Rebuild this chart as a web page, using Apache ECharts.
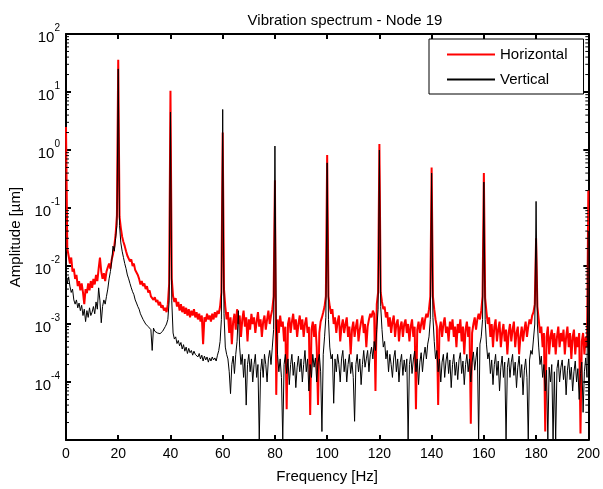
<!DOCTYPE html>
<html>
<head>
<meta charset="utf-8">
<script src="https://cdn.jsdelivr.net/npm/echarts@6/dist/echarts.min.js"></script>
<style>
  html, body { margin: 0; padding: 0; background: #fff; }
  #chart { width: 603px; height: 489px; }
</style>
</head>
<body>
<div id="chart"></div>
<script>
// frequency grid: 0 .. 200 Hz, 0.5 Hz step
const freqStep = 0.5;
const xTicks = [0, 20, 40, 60, 80, 100, 120, 140, 160, 180, 200];
const yDecades = [-5, -4, -3, -2, -1, 0, 1, 2];
const legendNames = ["Horizontal", "Vertical"];

// Horizontal amplitude [um], one row per 10 Hz
const horizontal = [
  2.5, 2.0e-2, 1.5e-2, 1.1e-2, 1.4e-2, 8e-3, 9e-3, 6e-3, 7e-3, 4.5e-3, 5.5e-3, 3.8e-3, 5e-3, 3.5e-3, 2.2e-3, 4e-3, 3.4e-3, 5e-3, 3.8e-3, 5.5e-3,
  4.2e-3, 6e-3, 4.8e-3, 7e-3, 5.5e-3, 9e-3, 1.4e-2, 8e-3, 6e-3, 7.5e-3, 5.5e-3, 8e-3, 9.5e-3, 1.1e-2, 9e-3, 1.3e-2, 1.6e-2, 2.2e-2, 3.5e-2, 7.5e-2,
  36, 7e-2, 4.5e-2, 3.2e-2, 2.6e-2, 2.2e-2, 1.8e-2, 1.5e-2, 1.6e-2, 1.2e-2, 1.3e-2, 1e-2, 1.1e-2, 8.5e-3, 9e-3, 7e-3, 6e-3, 4.8e-3, 5.5e-3, 4.5e-3,
  5e-3, 4e-3, 4.5e-3, 3.5e-3, 3.8e-3, 3e-3, 3.2e-3, 2.6e-3, 2.9e-3, 2.4e-3, 2.6e-3, 2.1e-3, 2.4e-3, 1.9e-3, 2.1e-3, 1.7e-3, 1.9e-3, 1.6e-3, 2.2e-3, 5e-3,
  10.5, 6e-3, 3e-3, 2.4e-3, 2.8e-3, 2e-3, 2.4e-3, 1.7e-3, 2.2e-3, 1.6e-3, 2e-3, 1.5e-3, 1.9e-3, 1.4e-3, 1.8e-3, 1.3e-3, 1.7e-3, 1.4e-3, 1.8e-3, 1.3e-3,
  1.6e-3, 1.2e-3, 1.5e-3, 1.1e-3, 1.4e-3, 4.5e-4, 1.3e-3, 1.1e-3, 1.5e-3, 1.2e-3, 1.4e-3, 1.1e-3, 1.5e-3, 1.2e-3, 1.6e-3, 1.3e-3, 1.7e-3, 1.5e-3, 2e-3, 3.5e-3,
  2.0, 4e-3, 2e-3, 1.2e-3, 1.6e-3, 7e-4, 1.3e-3, 4.5e-4, 1.1e-3, 1.5e-3, 8e-4, 1.8e-3, 1e-3, 1.4e-3, 6e-4, 1.2e-3, 1.7e-3, 9e-4, 1.3e-3, 5e-4,
  1.2e-3, 8e-4, 1.5e-3, 1e-3, 1.3e-3, 7e-4, 1.1e-3, 1.6e-3, 9e-4, 1.2e-3, 6e-4, 1.1e-3, 1.4e-3, 8e-4, 1.2e-3, 1.7e-3, 1e-3, 1.4e-3, 1.8e-3, 3e-3,
  0.3, 6e-5, 1.2e-3, 7e-4, 1.4e-3, 9e-4, 1.1e-3, 5e-4, 9e-4, 3.4e-5, 1e-3, 1.3e-3, 7e-4, 1.1e-3, 1.5e-3, 8e-4, 1.2e-3, 6e-4, 1e-3, 1.4e-3,
  8e-4, 1.2e-3, 6e-4, 1e-3, 1.3e-3, 7e-4, 9e-4, 2.7e-5, 8e-4, 1.1e-3, 6e-4, 1e-3, 4e-4, 4e-5, 7e-4, 1.1e-3, 1.3e-3, 1.6e-3, 2e-3, 3e-3,
  0.82, 3e-3, 2e-3, 1.5e-3, 1.8e-3, 1e-3, 1.3e-3, 7e-4, 1.1e-3, 1.4e-3, 5e-4, 9e-4, 1.2e-3, 7e-4, 1e-3, 1.3e-3, 6e-4, 9e-4, 3e-4, 8e-4,
  1.1e-3, 6e-4, 9e-4, 1.2e-3, 5e-4, 8e-4, 1.1e-3, 1.4e-3, 7e-4, 1e-3, 4e-4, 9e-4, 1.2e-3, 1.5e-3, 1.3e-3, 1.7e-3, 1.5e-3, 7e-5, 2.2e-3, 3.5e-3,
  1.27, 3.5e-3, 2.4e-3, 1.8e-3, 2e-3, 1.3e-3, 1.6e-3, 9e-4, 1.3e-3, 7e-4, 1.1e-3, 1.4e-3, 6e-4, 1e-3, 1.2e-3, 5e-4, 9e-4, 1.1e-3, 6e-4, 1e-3,
  1.2e-3, 7e-4, 1e-3, 5e-4, 9e-4, 1.2e-3, 6e-4, 9e-4, 3.4e-5, 8e-4, 1.1e-3, 7e-4, 1e-3, 1.3e-3, 8e-4, 1.2e-3, 1.5e-3, 1.3e-3, 1.8e-3, 3e-3,
  0.5, 3e-3, 1.8e-3, 1.2e-3, 9e-4, 4e-5, 8e-4, 1.1e-3, 6e-4, 1e-3, 1.3e-3, 7e-4, 9e-4, 5e-4, 1.1e-3, 8e-4, 1.2e-3, 6e-4, 9e-4, 4e-4,
  1e-3, 7e-4, 1.2e-3, 5e-4, 9e-4, 3e-4, 8e-4, 1.1e-3, 6e-4, 9e-4, 1.9e-5, 7e-4, 1e-3, 1.3e-3, 8e-4, 1.2e-3, 1.5e-3, 1.2e-3, 1.7e-3, 3e-3,
  0.4, 2.8e-3, 1.6e-3, 1e-3, 1.3e-3, 6e-4, 1e-3, 4e-4, 9e-4, 1.2e-3, 5e-4, 8e-4, 1.1e-3, 4e-4, 7e-4, 1e-3, 5e-4, 8e-4, 3e-4, 7e-4,
  1e-3, 5e-4, 8e-4, 1.1e-3, 4e-4, 7e-4, 9e-4, 3e-4, 6e-4, 9e-4, 5e-4, 8e-4, 1.1e-3, 6e-4, 9e-4, 1.2e-3, 1e-3, 1.4e-3, 1.6e-3, 2.2e-3,
  0.03, 2e-3, 1.2e-3, 7e-4, 9e-4, 4e-4, 7e-4, 1.4e-5, 6e-4, 9e-4, 3e-4, 6e-4, 8e-4, 4e-4, 7e-4, 3e-4, 6e-4, 9e-4, 4e-4, 7e-4,
  5e-4, 8e-4, 3e-4, 6e-4, 9e-4, 4e-4, 7e-4, 2.5e-4, 6e-4, 8e-4, 3e-4, 6e-4, 4e-4, 7e-4, 1.3e-5, 5e-4, 7e-4, 3e-4, 6e-4, 4e-4,
  0.2
];

// Vertical amplitude [um], one row per 10 Hz
const vertical = [
  8e-3, 5e-3, 6.5e-3, 4.5e-3, 3.5e-3, 4e-3, 2.6e-3, 2.2e-3, 2.6e-3, 1.9e-3, 2.3e-3, 1.7e-3, 2.1e-3, 1.4e-3, 1.8e-3, 1.1e-3, 1.7e-3, 1.3e-3, 1.9e-3, 1.4e-3,
  1.6e-3, 2e-3, 1.5e-3, 2.4e-3, 1.8e-3, 4.2e-3, 2.5e-3, 1.05e-3, 2e-3, 2.6e-3, 2.2e-3, 3e-3, 4e-3, 6e-3, 8e-3, 1.2e-2, 2.2e-2, 1.8e-2, 3e-2, 5e-2,
  25, 5e-2, 2.5e-2, 1.8e-2, 1.4e-2, 1.1e-2, 9e-3, 7e-3, 6e-3, 5e-3, 4.2e-3, 3.6e-3, 3.2e-3, 2.6e-3, 2.3e-3, 2e-3, 1.8e-3, 1.5e-3, 1.4e-3, 1.2e-3,
  1.25e-3, 1e-3, 1.05e-3, 9e-4, 9.5e-4, 8e-4, 3.5e-4, 8.5e-4, 7.5e-4, 8e-4, 7e-4, 7.5e-4, 6.8e-4, 7.2e-4, 7.5e-4, 8e-4, 9e-4, 1e-3, 1.2e-3, 2.5e-3,
  4.5, 2.5e-3, 7e-4, 5.5e-4, 6e-4, 4.6e-4, 5.2e-4, 4.2e-4, 4.8e-4, 3.7e-4, 4.4e-4, 3.4e-4, 4e-4, 3.1e-4, 3.8e-4, 3.2e-4, 3.5e-4, 2.9e-4, 3.4e-4, 3e-4,
  3.2e-4, 2.7e-4, 3.1e-4, 2.5e-4, 2.9e-4, 2.3e-4, 2.8e-4, 2.4e-4, 2.7e-4, 2.2e-4, 2.6e-4, 2.3e-4, 2.7e-4, 2.4e-4, 2.6e-4, 2.3e-4, 2.9e-4, 3.5e-4, 5e-4, 1.2e-3,
  5.0, 1.5e-3, 4e-4, 3e-4, 2.5e-4, 1.5e-4, 6.3e-5, 2e-4, 2.8e-4, 1.4e-4, 3e-4, 5e-4, 1.7e-3, 4e-4, 2e-4, 3e-4, 1.2e-4, 2.5e-4, 4e-5, 2e-4,
  3e-4, 1.5e-4, 2.5e-4, 1e-4, 2e-4, 3e-4, 1.2e-4, 2e-4, 1e-5, 1.5e-4, 2.5e-4, 1.2e-4, 3e-4, 2e-4, 1e-4, 2.5e-4, 3.5e-4, 2e-4, 4e-4, 8e-4,
  1.17, 1e-3, 3e-4, 1.5e-4, 2.5e-4, 1.2e-4, 1e-5, 2e-4, 3e-4, 1.4e-4, 2.5e-4, 9e-5, 2e-4, 3e-4, 1.3e-4, 2.2e-4, 8e-5, 1.8e-4, 2.8e-4, 1.5e-4,
  2.5e-4, 1e-4, 2e-4, 3.5e-4, 1.5e-4, 2.5e-4, 7e-5, 2e-4, 1.2e-4, 3e-4, 1.8e-4, 2.6e-4, 1e-4, 2.2e-4, 3e-4, 1.5e-4, 1.4e-5, 3e-4, 6e-4, 1.3e-3,
  0.6, 1.2e-3, 4e-4, 2.5e-4, 3e-4, 4.3e-5, 2.5e-4, 1.5e-4, 3e-4, 2e-4, 1e-4, 2.5e-4, 3.5e-4, 1.5e-4, 2.5e-4, 1e-4, 2e-4, 3e-4, 1.4e-4, 2.2e-4,
  1.2e-4, 2.1e-5, 2e-4, 3e-4, 1.5e-4, 2.5e-4, 9e-5, 2e-4, 3.5e-4, 1.8e-4, 2.5e-4, 3.5e-4, 1.5e-4, 3e-4, 4e-4, 2.5e-4, 5e-4, 3.5e-4, 8e-4, 1.8e-3,
  1.0, 2e-3, 8e-4, 4e-4, 5e-4, 2.5e-4, 3.5e-4, 1.5e-4, 3e-4, 2e-4, 1.2e-4, 2.6e-4, 3.5e-4, 1.5e-4, 2.5e-4, 1e-4, 2.2e-4, 3e-4, 1.3e-4, 2.4e-4,
  1.5e-4, 2.5e-4, 1e-5, 2e-4, 3e-4, 1.4e-4, 2.4e-4, 3.4e-4, 1.5e-4, 2.5e-4, 9e-5, 2.2e-4, 3.2e-4, 1.5e-4, 2.8e-4, 4e-4, 2.5e-4, 4.5e-4, 6e-4, 1.2e-3,
  0.4, 1.3e-3, 5e-4, 2.5e-4, 3.5e-4, 1.5e-4, 2.5e-4, 1e-4, 2.2e-4, 3e-4, 1.2e-4, 2.3e-4, 3.2e-4, 1.4e-4, 2.4e-4, 8e-5, 2e-4, 3e-4, 1.3e-4, 2.2e-4,
  1.1e-4, 2.4e-4, 3.2e-4, 1.4e-4, 2.3e-4, 9e-5, 2e-4, 3e-4, 1.5e-4, 2.5e-4, 1e-4, 2.2e-4, 3.3e-4, 1.6e-4, 2.6e-4, 4e-4, 1e-5, 4.5e-4, 6e-4, 1.2e-3,
  0.28, 1.2e-3, 4.5e-4, 2.5e-4, 3.2e-4, 1.4e-4, 2.4e-4, 9e-5, 2e-4, 3e-4, 1.3e-4, 2.3e-4, 7e-5, 1.8e-4, 2.8e-4, 1.2e-4, 2.2e-4, 1e-5, 1.8e-4, 2.6e-4,
  1.2e-4, 2.2e-4, 3e-4, 1.3e-4, 2.2e-4, 8e-5, 1.8e-4, 2.8e-4, 1.2e-4, 2e-4, 6e-5, 1.6e-4, 2.5e-4, 1.2e-4, 1e-5, 2.4e-4, 3.5e-4, 3e-4, 5.5e-4, 1e-3,
  0.13, 1e-3, 4e-4, 2e-4, 2.8e-4, 1.2e-4, 2e-4, 7e-5, 1.6e-4, 1e-5, 1.8e-4, 1e-4, 2e-4, 1e-5, 1.5e-4, 1e-5, 1.7e-4, 2.4e-4, 1e-4, 1.8e-4,
  2.4e-4, 1.1e-4, 1.9e-4, 6e-5, 1.6e-4, 2.5e-4, 1.1e-4, 1.8e-4, 7e-5, 1.5e-4, 2.3e-4, 1e-4, 1.7e-4, 5e-5, 1.4e-4, 2.2e-4, 3e-5, 1.5e-4, 2.6e-4, 1.2e-4,
  0.04
];

const toPairs = (arr) => arr.map((v, i) => [i * freqStep, v]);

// minor ticks on the log axis: 2..9 x 10^k
const minorTicks = [];
yDecades.slice(0, -1).forEach((k) => {
  for (let m = 2; m <= 9; m++) minorTicks.push([0, m * Math.pow(10, k)]);
});

const FONT = "'Liberation Sans', Arial, sans-serif";
const chart = echarts.init(document.getElementById("chart"), null, { renderer: "canvas" });

const logAxisBase = {
  type: "log",
  logBase: 10,
  min: Math.pow(10, yDecades[0]),
  max: Math.pow(10, yDecades[yDecades.length - 1]),
  splitNumber: yDecades.length - 1,
  axisLine: { show: true, onZero: false, lineStyle: { color: "#000", width: 2 } },
  axisTick: { show: true, inside: true, length: 5, lineStyle: { color: "#000", width: 2 } },
  splitLine: { show: false },
};

const option = {
  animation: false,
  backgroundColor: "#fff",
  title: {
    text: "Vibration spectrum - Node 19",
    left: 340,
    top: 8,
    textAlign: "center",
    textStyle: { fontFamily: FONT, fontSize: 15, fontWeight: "normal", color: "#000" },
  },
  legend: {
    data: legendNames,
    orient: "vertical",
    left: 429,
    top: 39,
    padding: [8, 16, 7, 17],
    itemGap: 10,
    itemWidth: 48,
    itemHeight: 16,
    borderColor: "#000",
    borderWidth: 1,
    backgroundColor: "#fff",
    itemStyle: { opacity: 0, color: "transparent", borderWidth: 0 },
    textStyle: { fontFamily: FONT, fontSize: 15, color: "#000" },
  },
  grid: { left: 66, right: 12, top: 34, bottom: 46 },
  xAxis: [
    {
      type: "value",
      min: xTicks[0],
      max: xTicks[xTicks.length - 1],
      interval: xTicks[1] - xTicks[0],
      name: "Frequency [Hz]",
      nameLocation: "middle",
      nameGap: 29,
      nameTextStyle: { fontFamily: FONT, fontSize: 15, color: "#000" },
      axisLine: { show: true, onZero: false, lineStyle: { color: "#000", width: 2 } },
      axisTick: { show: true, inside: true, length: 5, lineStyle: { color: "#000", width: 2 } },
      axisLabel: { fontFamily: FONT, fontSize: 14, color: "#000", margin: 7 },
      splitLine: { show: false },
    },
    {
      type: "value",
      position: "top",
      min: xTicks[0],
      max: xTicks[xTicks.length - 1],
      interval: xTicks[1] - xTicks[0],
      axisLine: { show: true, onZero: false, lineStyle: { color: "#000", width: 2 } },
      axisTick: { show: true, inside: true, length: 5, lineStyle: { color: "#000", width: 2 } },
      axisLabel: { show: false },
      splitLine: { show: false },
    },
  ],
  yAxis: [
    Object.assign({}, logAxisBase, {
      name: "Amplitude [\u00b5m]",
      nameLocation: "middle",
      nameGap: 34,
      nameRotate: 90,
      nameTextStyle: { fontFamily: FONT, fontSize: 15, color: "#000" },
      axisLabel: {
        margin: 6,
        formatter: (v) => {
          const e = Math.round(Math.log10(v));
          if (e === yDecades[0]) return "";
          return "{b|10}{e|" + e + "}";
        },
        rich: {
          b: { fontFamily: FONT, fontSize: 15, color: "#000", lineHeight: 22, verticalAlign: "bottom" },
          e: { fontFamily: FONT, fontSize: 10, color: "#000", lineHeight: 22, verticalAlign: "top" },
        },
      },
    }),
    Object.assign({}, logAxisBase, {
      position: "right",
      axisLabel: { show: false },
    }),
  ],
  series: [
    {
      name: legendNames[0],
      type: "line",
      data: toPairs(horizontal),
      showSymbol: false,
      symbol: "none",
      sampling: null,
      lineStyle: { color: "#ff0000", width: 2 },
      itemStyle: { color: "#ff0000" },
      z: 2,
    },
    {
      name: legendNames[1],
      type: "line",
      data: toPairs(vertical),
      showSymbol: false,
      symbol: "none",
      lineStyle: { color: "#000", width: 1 },
      itemStyle: { color: "#000" },
      z: 3,
    },
    {
      type: "custom",
      silent: true,
      data: minorTicks,
      z: 5,
      clip: false,
      renderItem: (params, api) => {
        const v = api.value(1);
        const l = api.coord([xTicks[0], v]);
        const r = api.coord([xTicks[xTicks.length - 1], v]);
        return {
          type: "group",
          children: [
            { type: "line", shape: { x1: l[0], y1: l[1], x2: l[0] + 3, y2: l[1] }, style: { stroke: "#000", lineWidth: 1 } },
            { type: "line", shape: { x1: r[0], y1: r[1], x2: r[0] - 3, y2: r[1] }, style: { stroke: "#000", lineWidth: 1 } },
          ],
        };
      },
    },
  ],
};

chart.setOption(option);
</script>
</body>
</html>
